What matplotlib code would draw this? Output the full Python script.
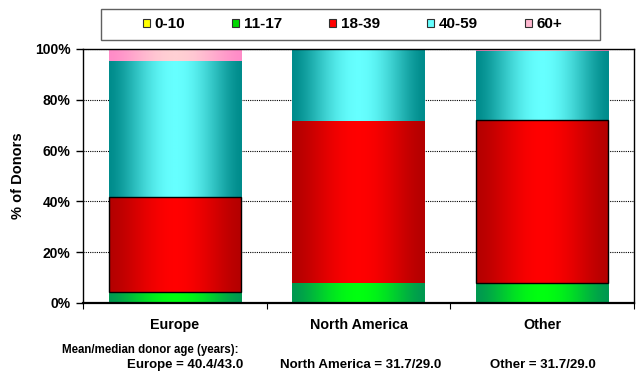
"""Stacked age-group bars of donors by region."""

import matplotlib

matplotlib.use("Agg")
import matplotlib.pyplot as plt  # noqa: E402
import numpy as np  # noqa: E402
from matplotlib.colors import LinearSegmentedColormap  # noqa: E402
from matplotlib.patches import Patch, Rectangle  # noqa: E402

plt.rcParams["font.family"] = ["Liberation Sans", "DejaVu Sans"]
plt.rcParams["font.weight"] = "bold"

regions = ["Europe", "North America", "Other"]
age_groups = ["0-10", "11-17", "18-39", "40-59", "60+"]

# share of donors (%) per age group, one list per group in region order
share_0_10 = [0.2, 0.2, 0.5]
share_11_17 = [4.0, 7.8, 7.5]
share_18_39 = [37.7, 63.5, 64.2]
share_40_59 = [53.5, 28.2, 26.9]
share_60_plus = [4.6, 0.3, 0.9]
shares = [share_0_10, share_11_17, share_18_39, share_40_59, share_60_plus]

mean_age = [40.4, 31.7, 31.7]
median_age = [43.0, 29.0, 29.0]

y_ticks = [0, 20, 40, 60, 80, 100]

# (edge shade, centre highlight, legend swatch)
palette = [
    ("#B0B000", "#FFFF30", "#FFFF00"),
    ("#009850", "#00FF10", "#00D800"),
    ("#B40000", "#FF0000", "#FF0000"),
    ("#008C8C", "#66FFFF", "#66FFFF"),
    ("#FF8CC8", "#FFD0D4", "#FFB8D0"),
]
red_outline = ["black", "none", "black"]

fig = plt.figure(figsize=(6.4, 3.75), dpi=100)
ax = fig.add_axes([83 / 640, 72 / 375, 551 / 640, 254 / 375])

x = np.arange(len(regions))
width = 0.72
t = np.linspace(0, 1, 256)
profile = np.sin(np.pi * t) ** 1.5
gradient = profile[np.newaxis, :]

bottoms = np.zeros(len(regions))
for idx, (label, values) in enumerate(zip(age_groups, shares)):
    edge, centre, _ = palette[idx]
    bars = ax.bar(
        x,
        values,
        width,
        bottom=bottoms,
        color=edge,
        linewidth=0,
        zorder=2,
        label=label,
    )
    cmap = LinearSegmentedColormap.from_list(f"shade_{idx}", [edge, centre])
    for j, patch in enumerate(bars.patches):
        x0 = patch.get_x()
        y0 = patch.get_y()
        ax.imshow(
            gradient,
            cmap=cmap,
            extent=[x0, x0 + patch.get_width(), y0, y0 + patch.get_height()],
            aspect="auto",
            zorder=2.1,
            interpolation="bilinear",
        )
        if label == "18-39" and red_outline[j] != "none":
            outline = plt.Rectangle(
                (x0, y0),
                patch.get_width(),
                patch.get_height(),
                fill=False,
                edgecolor=red_outline[j],
                linewidth=1.0,
                zorder=2.5,
            )
            ax.add_patch(outline)
    bottoms += np.array(values)

ax.set_xlim(-0.5, len(regions) - 0.5)
ax.set_ylim(0, 100)
ax.set_yticks(y_ticks)
ax.set_yticklabels([f"{v}%" for v in y_ticks])
ax.set_xticks(x)
ax.set_xticklabels(regions)
ax.set_xticks(np.arange(len(regions) + 1) - 0.5, minor=True)
ax.tick_params(axis="x", which="major", length=0, pad=11, labelsize=10.3)
ax.tick_params(axis="x", which="minor", length=4, width=0.8, direction="out")
ax.tick_params(axis="y", length=5, width=1.0, direction="out", labelsize=10, pad=4)
ax.yaxis.grid(True, linestyle=(0, (1, 1)), color="black", linewidth=0.8, zorder=1)
ax.set_axisbelow(True)

for side in ("left", "top", "right"):
    ax.spines[side].set_linewidth(1.0)
ax.spines["bottom"].set_linewidth(1.6)
ax.spines["bottom"].set_zorder(3)

ax.set_ylabel("% of Donors", fontsize=10.5, fontweight="bold", labelpad=7)

# legend box is a plain frame; entries sit centred inside it
box_x0, box_y0, box_w, box_h = 101 / 640, 1 - 40 / 375, 499 / 640, 31 / 375
fig.add_artist(Rectangle((box_x0, box_y0), box_w, box_h, transform=fig.transFigure,
                         fill=False, edgecolor="#606060", linewidth=1.0))
handles = [
    Patch(facecolor=swatch, edgecolor="#303030", linewidth=0.8, label=label)
    for (_, _, swatch), label in zip(palette, age_groups)
]
fig.legend(
    handles=handles,
    loc="center",
    bbox_to_anchor=(box_x0 + box_w / 2 + 2 / 640, box_y0 + box_h / 2),
    ncol=len(age_groups),
    frameon=False,
    fontsize=11,
    handlelength=0.45,
    handleheight=0.45,
    handletextpad=0.3,
    columnspacing=3.1,
    borderpad=0,
    borderaxespad=0,
)

fig.text(62 / 640, 1 - 350 / 375, "Mean/median donor age (years):",
         fontsize=8.3, fontweight="bold", va="center", ha="left")
summary_x = [127, 280, 490]
for xpos, region, mean, median in zip(summary_x, regions, mean_age, median_age):
    fig.text(xpos / 640, 1 - 365 / 375, f"{region} = {mean:.1f}/{median:.1f}",
             fontsize=9.5, fontweight="bold", va="center", ha="left")

fig.savefig("out.png", dpi=100)
